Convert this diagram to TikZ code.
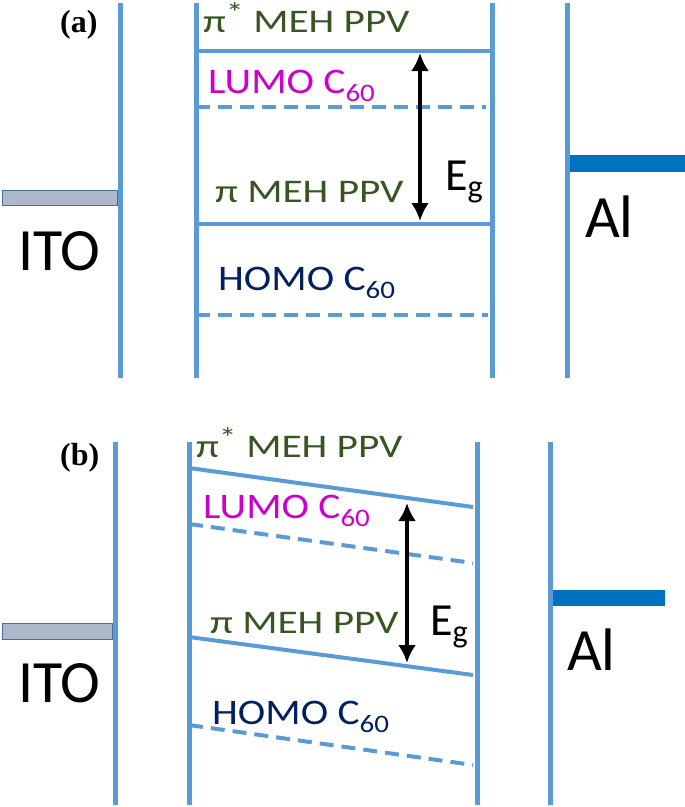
\documentclass[tikz,border=0pt]{standalone}
\usepackage{fontspec}
\setmainfont{Carlito}
\newfontfamily\panelfont{Liberation Serif}
\newfontfamily\ppvfont[FakeStretch=1.25]{Carlito}
\newfontfamily\cfont[FakeStretch=1.15]{Carlito}
\usetikzlibrary{arrows.meta}
\definecolor{lineblue}{HTML}{5B9BD5}
\definecolor{alblue}{HTML}{0070C0}
\definecolor{itofill}{HTML}{ADB9CA}
\definecolor{itoedge}{HTML}{41719C}
\definecolor{ppvgreen}{HTML}{375623}
\definecolor{lumopink}{HTML}{CC00CC}
\definecolor{homonavy}{HTML}{002060}
\newcommand{\pistar}{π\textsuperscript{\fontsize{28}{28}\selectfont *}}

\begin{document}
\begin{tikzpicture}[x=1pt,y=-1pt]

\tikzset{wall/.style = {draw=lineblue,line width=5pt}}
\tikzset{level/.style = {draw=lineblue,line width=4pt}}
\tikzset{dlevel/.style = {draw=lineblue,line width=4pt,dash pattern=on 14pt off 8pt}}
\tikzset{gap/.style = {{Latex[length=18pt,width=18pt]}-{Latex[length=18pt,width=18pt]},line width=4pt}}
\tikzset{ppv/.style = {text=ppvgreen,anchor=base west,inner sep=0pt,font=\fontsize{33}{35}\ppvfont}}
\tikzset{lumo/.style = {text=lumopink,anchor=base west,inner sep=0pt,font=\fontsize{36}{38}\cfont}}
\tikzset{homo/.style = {text=homonavy,anchor=base west,inner sep=0pt,font=\fontsize{36}{38}\cfont}}
\tikzset{metal/.style = {anchor=base west,inner sep=0pt,font=\fontsize{60}{62}\selectfont}}
\tikzset{eg/.style = {anchor=base west,inner sep=0pt,font=\fontsize{46}{48}\selectfont}}
\tikzset{panel/.style = {anchor=base west,inner sep=0pt,font=\fontsize{32}{34}\panelfont\bfseries}}

\useasboundingbox (0,0) rectangle (685,807);

% (a)
\node[panel] (pa) at (60,32) {(a)};

\coordinate (itoT) at (120,3);
\coordinate (itoB) at (120,378);
\coordinate (orgLT) at (196,3);
\coordinate (orgLB) at (196,378);
\coordinate (orgRT) at (492,3);
\coordinate (orgRB) at (492,378);
\coordinate (alT) at (567,3);
\coordinate (alB) at (567,378);

\draw[wall] (itoT) -- (itoB);
\draw[wall] (orgLT) -- (orgLB);
\draw[wall] (orgRT) -- (orgRB);
\draw[wall] (alT) -- (alB);

\draw[fill=itofill,draw=itoedge,line width=0.8pt] (2,190) rectangle (117,205);
\draw[fill=alblue,draw=none] (570,155) rectangle (685,172);

\coordinate (pistarL) at (196,51);
\coordinate (pistarR) at (492,51);
\coordinate (lumoL) at (196,107);
\coordinate (lumoR) at (486,107);
\coordinate (piL) at (196,224);
\coordinate (piR) at (492,224);
\coordinate (homoL) at (196,315);
\coordinate (homoR) at (488,315);

\draw[level] (pistarL) -- (pistarR);
\draw[dlevel] (lumoL) -- (lumoR);
\draw[level] (piL) -- (piR);
\draw[dlevel] (homoL) -- (homoR);

\coordinate (gapT) at (420,53);
\coordinate (gapB) at (420,221);
\draw[gap] (gapT) -- (gapB);

\node[ppv] (pistar) at (203,32) {\pistar{} MEH PPV};
\node[lumo] (lumo) at (208,93) {LUMO C\textsubscript{60}};
\node[ppv] (pi) at (215,202) {π MEH PPV};
\node[homo] (homo) at (218,290) {HOMO C\textsubscript{60}};
\node[eg] (eg) at (445,190) {E\textsubscript{g}};
\node[metal] (ito) at (18,270) {ITO};
\node[metal] (al) at (585,237) {Al};

% (b)
\node[panel] (pb) at (60,465) {(b)};

\coordinate (itoT1) at (115,442);
\coordinate (itoB1) at (115,805);
\coordinate (orgLT1) at (189,442);
\coordinate (orgLB1) at (189,805);
\coordinate (orgRT1) at (477,442);
\coordinate (orgRB1) at (477,805);
\coordinate (alT1) at (550,442);
\coordinate (alB1) at (550,805);

\draw[wall] (itoT1) -- (itoB1);
\draw[wall] (orgLT1) -- (orgLB1);
\draw[wall] (orgRT1) -- (orgRB1);
\draw[wall] (alT1) -- (alB1);

\draw[fill=itofill,draw=itoedge,line width=0.8pt] (2,623) rectangle (112,639);
\draw[fill=alblue,draw=none] (553,590) rectangle (665,606);

\coordinate (pistarL1) at (189,468);
\coordinate (pistarR1) at (473,507);
\coordinate (lumoL1) at (189,524);
\coordinate (lumoR1) at (473,563);
\coordinate (piL1) at (189,637);
\coordinate (piR1) at (473,675);
\coordinate (homoL1) at (189,725);
\coordinate (homoR1) at (473,765);

\draw[level] (pistarL1) -- (pistarR1);
\draw[dlevel] (lumoL1) -- (lumoR1);
\draw[level] (piL1) -- (piR1);
\draw[dlevel] (homoL1) -- (homoR1);

\coordinate (gapT1) at (407,503);
\coordinate (gapB1) at (407,663);
\draw[gap] (gapT1) -- (gapB1);

\node[ppv] (pistar1) at (196,457) {\pistar{} MEH PPV};
\node[lumo] (lumo1) at (203,518) {LUMO C\textsubscript{60}};
\node[ppv] (pi1) at (210,633) {π MEH PPV};
\node[homo] (homo1) at (212,724) {HOMO C\textsubscript{60}};
\node[eg] (eg1) at (430,635) {E\textsubscript{g}};
\node[metal] (ito1) at (18,702) {ITO};
\node[metal] (al1) at (567,670) {Al};

\end{tikzpicture}
\end{document}
